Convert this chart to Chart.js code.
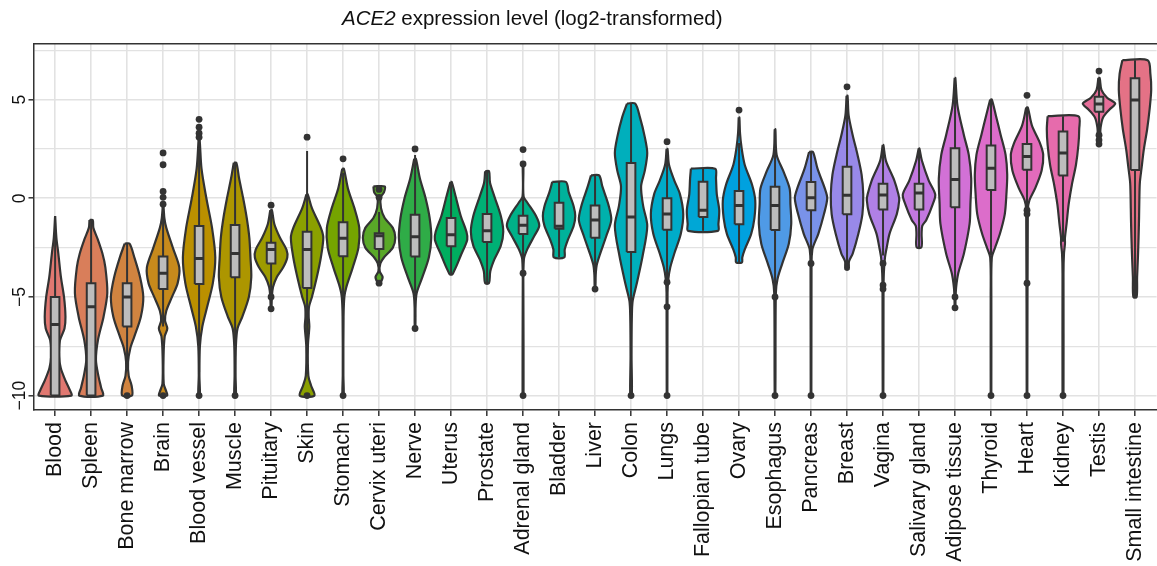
<!DOCTYPE html>
<html>
<head>
<meta charset="utf-8">
<script src="https://cdn.jsdelivr.net/npm/chart.js@4.4.1/dist/chart.umd.min.js"></script>
<style>
  html, body { margin: 0; padding: 0; background: #fff; overflow: hidden; }
  #wrap { position: relative; width: 1157px; height: 566px; overflow: hidden; }
  #titulo { position: absolute; left: 342px; top: 6px; font: 20.5px "Liberation Sans", Arial, sans-serif; color: #111; white-space: nowrap; }
  canvas { position: absolute; left: 0; top: 0; }
</style>
</head>
<body>
<div id="wrap">
  <canvas id="violines" width="1167" height="566"></canvas>
  <div id="titulo"><i>ACE2</i> expression level (log2-transformed)</div>
</div>
<script>
// tejidos en el orden del eje x
var tejidos = ['Blood', 'Spleen', 'Bone marrow', 'Brain', 'Blood vessel', 'Muscle', 'Pituitary', 'Skin',
    'Stomach', 'Cervix uteri', 'Nerve', 'Uterus', 'Prostate', 'Adrenal gland', 'Bladder', 'Liver', 'Colon',
    'Lungs', 'Fallopian tube', 'Ovary', 'Esophagus', 'Pancreas', 'Breast', 'Vagina', 'Salivary gland',
    'Adipose tissue', 'Thyroid', 'Heart', 'Kidney', 'Testis', 'Small intestine'];

// perfil de cada violin: [nivel, ancho relativo] de arriba hacia abajo
var perfiles = [
    [[-0.9, 0], [-2, 0.08], [-2.8, 0.2], [-4, 0.36], [-5, 0.55], [-6, 0.64], [-6.6, 0.58], [-7.2, 0.3], [-8, 0.24], [-8.6, 0.35], [-9.2, 0.62], [-9.7, 0.9], [-10, 1.0]],
    [[-1.1, 0.1], [-1.5, 0.14], [-2.1, 0.42], [-2.8, 0.7], [-3.5, 0.88], [-4.8, 1.0], [-6, 0.77], [-7.2, 0.42], [-8.2, 0.3], [-9, 0.45], [-9.6, 0.62], [-10, 0.72]],
    [[-2.3, 0.15], [-3, 0.45], [-4, 0.8], [-5, 1.0], [-6, 0.85], [-7, 0.45], [-7.6, 0.2], [-8.3, 0.06], [-9, 0.1], [-9.5, 0.28], [-10, 0.3]],
    [[-0.4, 0.02], [-1, 0.08], [-1.5, 0.2], [-2.5, 0.6], [-3.5, 1.0], [-4.3, 0.9], [-5, 0.55], [-5.7, 0.2], [-6.2, 0.12], [-6.6, 0.26], [-7, 0.1], [-8, 0.03], [-9.4, 0.04], [-9.8, 0.2], [-10, 0.25]],
    [[3.0, 0.03], [1.5, 0.15], [0, 0.45], [-1.5, 0.8], [-3, 1.0], [-4.3, 0.85], [-5.5, 0.5], [-6.5, 0.2], [-7.5, 0.05], [-9, 0.02], [-10, 0.05]],
    [[1.8, 0.08], [1, 0.25], [0, 0.5], [-1, 0.72], [-2, 0.88], [-3, 0.95], [-4, 1.0], [-5, 0.85], [-6, 0.45], [-6.6, 0.15], [-7.5, 0.05], [-9, 0.03], [-10, 0.05]],
    [[-0.6, 0.05], [-1.3, 0.2], [-2, 0.55], [-2.6, 0.95], [-3, 1.0], [-3.5, 0.75], [-4, 0.35], [-4.5, 0.12], [-5, 0.05], [-5.6, 0.02]],
    [[0.2, 0.04], [-0.5, 0.3], [-1.5, 0.85], [-2, 1.0], [-3, 0.85], [-4, 0.6], [-5, 0.3], [-5.5, 0.12], [-6, 0.1], [-6.5, 0.14], [-7.5, 0.05], [-9, 0.08], [-9.5, 0.25], [-10, 0.45]],
    [[1.5, 0.05], [0.5, 0.3], [-0.5, 0.7], [-1.5, 1.0], [-2.5, 0.95], [-3.5, 0.6], [-4.5, 0.2], [-5, 0.08], [-6, 0.03], [-9, 0.02], [-10, 0.04]],
    [[0.6, 0.35], [0.3, 0.3], [0.05, 0.1], [-0.5, 0.12], [-1, 0.35], [-1.5, 0.85], [-2, 1.0], [-2.5, 0.85], [-3, 0.3], [-3.3, 0.08], [-3.7, 0.04], [-4.0, 0.22], [-4.3, 0.05]],
    [[2.0, 0.05], [1, 0.3], [0, 0.65], [-1, 0.9], [-2, 1.0], [-3, 0.85], [-4, 0.45], [-4.8, 0.1], [-5.5, 0.03], [-6.5, 0.02]],
    [[0.83, 0.04], [0.1, 0.28], [-0.9, 0.6], [-1.7, 0.95], [-2.1, 1.0], [-2.9, 0.6], [-3.4, 0.35], [-3.7, 0.18], [-3.85, 0.08]],
    [[1.37, 0.12], [0.8, 0.18], [0.1, 0.45], [-0.9, 0.85], [-1.7, 1.0], [-2.4, 0.85], [-3.1, 0.45], [-3.7, 0.2], [-4.3, 0.12]],
    [[1.6, 0.02], [0.1, 0.03], [-0.2, 0.25], [-0.9, 0.8], [-1.4, 1.0], [-1.9, 0.7], [-2.6, 0.25], [-3.1, 0.05], [-5, 0.02], [-10, 0.03]],
    [[0.83, 0.42], [0.3, 0.6], [-0.4, 0.9], [-0.9, 1.0], [-1.4, 0.9], [-2.1, 0.55], [-2.6, 0.35], [-3.0, 0.32]],
    [[1.16, 0.25], [0.6, 0.45], [-0.4, 0.85], [-1.1, 1.0], [-1.9, 0.7], [-2.9, 0.28], [-3.4, 0.1], [-3.9, 0.04], [-4.6, 0.02]],
    [[4.8, 0.25], [4.1, 0.55], [3.1, 0.85], [2.3, 1.0], [1.4, 0.85], [0.6, 0.62], [-0.4, 0.75], [-1.4, 1.0], [-2.9, 0.72], [-4.4, 0.33], [-5.2, 0.1], [-6, 0.05], [-8, 0.03], [-10, 0.05]],
    [[2.5, 0.03], [1.7, 0.12], [0.9, 0.45], [0.2, 0.8], [-0.8, 1.0], [-1.8, 0.85], [-2.8, 0.45], [-3.5, 0.2], [-4.1, 0.08], [-4.8, 0.03], [-10, 0.02]],
    [[1.5, 0.75], [1.0, 0.8], [0.2, 0.85], [-0.6, 1.0], [-1.3, 0.95], [-1.65, 0.92]],
    [[4.1, 0.02], [3.3, 0.06], [2.6, 0.15], [1.7, 0.35], [0.7, 0.8], [-0.1, 1.0], [-1.0, 0.95], [-1.8, 0.75], [-2.6, 0.35], [-3.0, 0.2], [-3.25, 0.18]],
    [[3.5, 0.02], [2.2, 0.1], [1.4, 0.5], [0.5, 0.9], [-0.3, 0.95], [-1.3, 1.0], [-2.3, 0.85], [-3.3, 0.45], [-4.1, 0.15], [-4.8, 0.05], [-10, 0.02]],
    [[2.35, 0.12], [1.5, 0.4], [0.5, 0.85], [0.0, 1.0], [-0.8, 0.8], [-1.8, 0.45], [-2.3, 0.2], [-2.6, 0.08], [-3.3, 0.03], [-10, 0.02]],
    [[5.2, 0.03], [4.2, 0.1], [3.2, 0.35], [2.2, 0.65], [1.2, 0.9], [0.2, 1.0], [-0.8, 0.95], [-1.8, 0.7], [-2.8, 0.35], [-3.2, 0.12], [-3.6, 0.1]],
    [[2.7, 0.02], [1.9, 0.18], [0.9, 0.7], [0.2, 0.95], [-0.1, 1.0], [-0.8, 0.85], [-1.8, 0.4], [-2.4, 0.25], [-3.0, 0.12], [-3.8, 0.05], [-4.8, 0.03], [-10, 0.02]],
    [[2.53, 0.02], [1.9, 0.18], [0.9, 0.6], [0.2, 1.0], [-0.3, 0.85], [-1.1, 0.45], [-1.4, 0.2], [-1.8, 0.16], [-2.48, 0.15]],
    [[6.1, 0.02], [4.7, 0.15], [3.2, 0.55], [2.2, 0.85], [1.0, 1.0], [-0.3, 0.95], [-1.3, 0.9], [-2.8, 0.55], [-3.8, 0.2], [-4.5, 0.07], [-5.1, 0.03], [-5.55, 0.02]],
    [[5.0, 0.05], [4.2, 0.3], [3.2, 0.6], [2.2, 0.9], [1.2, 1.0], [0.2, 0.95], [-0.8, 0.85], [-1.8, 0.55], [-2.5, 0.25], [-3.0, 0.05], [-5, 0.02], [-10, 0.02]],
    [[4.6, 0.05], [3.7, 0.3], [2.8, 0.8], [2.2, 1.0], [1.4, 0.9], [0.5, 0.5], [-0.1, 0.15], [-0.6, 0.05], [-10, 0.02]],
    [[4.16, 0.95], [3.5, 1.0], [2.7, 0.95], [1.7, 0.8], [0.7, 0.55], [-0.3, 0.35], [-1.3, 0.22], [-2.0, 0.12], [-2.3, 0.12], [-2.8, 0.06], [-3.8, 0.03], [-10, 0.03]],
    [[6.1, 0.04], [5.5, 0.15], [5.1, 0.5], [4.8, 1.0], [4.5, 0.65], [4.1, 0.25], [3.6, 0.1], [3.0, 0.05]],
    [[7.0, 0.78], [6.3, 0.95], [5.5, 1.0], [4.5, 0.9], [3.5, 0.75], [2.5, 0.55], [1.5, 0.4], [0.8, 0.3], [0, 0.27], [-1, 0.25], [-2, 0.22], [-3, 0.18], [-4, 0.13], [-5, 0.1]]
];

// cajas: cuartil inferior, mediana, cuartil superior
var q1 = [-10, -10, -6.5, -4.6, -4.35, -4.0, -3.3, -4.55, -2.94, -2.57, -2.95, -2.43, -2.21, -1.81, -1.54, -2.0,
    -2.72, -1.6, -0.95, -1.32, -1.61, -0.61, -0.81, -0.57, -0.57, -0.46, 0.42, 1.45, 1.15, 4.39, 1.44];
var mediana = [-6.4, -5.5, -5.0, -3.8, -3.05, -2.8, -2.6, -2.6, -2.03, -1.9, -1.95, -1.85, -1.64, -1.37, -1.42, -1.1,
    -0.95, -0.8, -0.6, -0.36, -0.36, 0.03, 0.15, 0.17, 0.27, 0.95, 1.52, 2.12, 2.3, 4.78, 4.98];
var q3 = [-5.0, -4.3, -4.3, -2.95, -1.4, -1.35, -2.25, -1.7, -1.22, -1.77, -0.83, -1.0, -0.8, -0.88, -0.22, -0.36,
    1.79, 0.0, 0.84, 0.37, 0.59, 0.83, 1.6, 0.74, 0.74, 2.53, 2.67, 2.75, 3.38, 5.15, 6.08];
// bigotes
var bigoteBajo = [-10, -10, -8.3, -6.5, -8.8, -8.0, -4.8, -8.9, -5.5, -3.3, -6.0, -3.85, -4.3, -3.2, -3.0, -4.3,
    -9.5, -4.1, -1.65, -3.25, -4.9, -2.7, -3.6, -2.9, -2.48, -4.9, -2.9, -0.5, -2.2, 3.3, -5.0];
var bigoteAlto = [-0.9, -1.1, -2.3, -0.5, 3.0, 1.8, -0.7, 2.4, 1.3, -0.7, 2.2, 0.83, 1.37, 0.2, 0.83, 1.16,
    4.8, 2.4, 1.5, 2.8, 3.5, 2.35, 5.2, 2.7, 2.53, 6.1, 5.0, 4.6, 4.16, 6.0, 7.0];
// valores atipicos
var atipicos = [
    [], [], [-10], [2.3, 1.7, 0.35, 0.05, -0.3, -10], [4.0, 3.6, 3.3, 3.1, -10], [-10], [-0.35, -5.0, -5.6],
    [3.1, -10], [2.0, -10], [0.05, 0.45, -4.3], [2.5, -6.6], [], [], [2.47, 1.74, -3.8, -10], [], [-4.6],
    [-10], [2.87, -4.25, -5.5, -10], [], [4.47], [-5.0, -10], [-3.3, -10], [5.65], [-3.3, -4.4, -4.6, -10], [],
    [-5.0, -5.55], [-10], [5.22, -0.6, -0.8, -4.3, -10], [-10], [6.45, 3.2, 2.95, 2.75], []
];

var ticksY = [-10, -7.5, -5, -2.5, 0, 2.5, 5, 7.5];

var fuente = '"Liberation Sans", Arial, sans-serif';
var MEDIO = 0.45;   // medio ancho maximo del violin
var CAJA = 0.12;    // medio ancho de la caja

// paleta hue de ggplot, algo apagada como en la figura impresa
function colorHcl(h, c, l) {
    var hr = h * Math.PI / 180;
    var U = c * Math.cos(hr), V = c * Math.sin(hr);
    var Xn = 95.047, Yn = 100, Zn = 108.883;
    var un = 4 * Xn / (Xn + 15 * Yn + 3 * Zn), vn = 9 * Yn / (Xn + 15 * Yn + 3 * Zn);
    var Y = Yn * Math.pow((l + 16) / 116, 3);
    var u = U / (13 * l) + un, v = V / (13 * l) + vn;
    var X = Y * 9 * u / (4 * v), Z = Y * (12 - 3 * u - 20 * v) / (4 * v);
    X /= 100; Y /= 100; Z /= 100;
    var rgb = [
        3.240479 * X - 1.537150 * Y - 0.498535 * Z,
        -0.969256 * X + 1.875992 * Y + 0.041556 * Z,
        0.055648 * X - 0.204043 * Y + 1.057311 * Z
    ].map(function (k) {
        k = k <= 0.0031308 ? 12.92 * k : 1.055 * Math.pow(k, 1 / 2.4) - 0.055;
        return Math.round(Math.max(0, Math.min(1, k)) * 255);
    });
    return 'rgb(' + rgb.join(',') + ')';
}

var conjuntos = [];
var puntos = [];

tejidos.forEach(function (nombre, i) {
    var perfil = perfiles[i];
    var izq = perfil.map(function (p) { return { x: i - p[1] * MEDIO, y: p[0] }; });
    var der = perfil.slice().reverse().map(function (p) { return { x: i + p[1] * MEDIO, y: p[0] }; });
    var contorno = izq.concat(der);
    contorno.push(contorno[0]);

    conjuntos.push({
        label: nombre,
        data: contorno,
        fill: 'shape',
        backgroundColor: colorHcl(15 + i * 360 / tejidos.length, 78, 62),
        borderColor: '#333333',
        borderWidth: 2.2,
        borderJoinStyle: 'round',
        tension: 0.3,
        pointRadius: 0,
        order: 4
    });
    conjuntos.push({
        data: [{ x: i, y: bigoteBajo[i] }, { x: i, y: bigoteAlto[i] }],
        borderColor: '#333333',
        borderWidth: 2,
        pointRadius: 0,
        fill: false,
        order: 3
    });
    conjuntos.push({
        data: [{ x: i - CAJA, y: q1[i] }, { x: i - CAJA, y: q3[i] }, { x: i + CAJA, y: q3[i] },
            { x: i + CAJA, y: q1[i] }, { x: i - CAJA, y: q1[i] }],
        fill: 'shape',
        backgroundColor: '#bdbdbd',
        borderColor: '#333333',
        borderWidth: 2,
        tension: 0,
        pointRadius: 0,
        order: 2
    });
    conjuntos.push({
        data: [{ x: i - CAJA, y: mediana[i] }, { x: i + CAJA, y: mediana[i] }],
        borderColor: '#333333',
        borderWidth: 3,
        pointRadius: 0,
        fill: false,
        order: 1
    });
    atipicos[i].forEach(function (v) { puntos.push({ x: i, y: v }); });
});

conjuntos.push({
    data: puntos,
    showLine: false,
    pointRadius: 3.4,
    pointBackgroundColor: '#333333',
    pointBorderWidth: 0,
    order: 0
});

function esMayor(v) { return Math.abs(v % 5) < 1e-9; }

var ctx = document.getElementById('violines').getContext('2d');
var grafico = new Chart(ctx, {
    type: 'line',
    data: { datasets: conjuntos },
    options: {
        responsive: false,
        animation: false,
        events: [],
        layout: { padding: { top: 44, left: 0, right: 2, bottom: 0 } },
        plugins: {
            legend: { display: false },
            tooltip: { enabled: false },
            title: { display: false }
        },
        scales: {
            x: {
                type: 'linear',
                min: -0.6,
                max: 30.6,
                afterBuildTicks: function (s) { s.ticks = tejidos.map(function (t, i) { return { value: i }; }); },
                afterFit: function (s) { s.height = 156; },
                ticks: {
                    autoSkip: false,
                    minRotation: 90,
                    maxRotation: 90,
                    padding: 6,
                    color: '#111',
                    font: { family: fuente, size: 21.5 },
                    callback: function (v) { return tejidos[v]; }
                },
                grid: { color: '#e2e2e2', lineWidth: 1.6, tickColor: '#333333', tickLength: 6, tickWidth: 1.5 },
                border: { color: '#333333', width: 1.5 }
            },
            arriba: {
                type: 'linear',
                position: 'top',
                min: -0.6,
                max: 30.6,
                ticks: { display: false },
                grid: { display: false, drawTicks: false },
                border: { display: true, color: '#333333', width: 1.5 },
                afterFit: function (s) { s.height = 0; }
            },
            y: {
                type: 'linear',
                min: -10.73,
                max: 7.82,
                afterBuildTicks: function (s) { s.ticks = ticksY.map(function (v) { return { value: v }; }); },
                afterFit: function (s) { s.width = 33.5; },
                ticks: {
                    minRotation: 90,
                    maxRotation: 90,
                    crossAlign: 'center',
                    padding: -7,
                    color: '#111',
                    font: { family: fuente, size: 17.5 },
                    callback: function (v) {
                        if (!esMayor(v)) return '';
                        return v < 0 ? '\u2212' + Math.abs(v) : String(v);
                    }
                },
                grid: {
                    color: '#e2e2e2',
                    lineWidth: function (c) { return c.tick && esMayor(c.tick.value) ? 1.6 : 1.2; },
                    tickColor: function (c) { return c.tick && esMayor(c.tick.value) ? '#333333' : 'rgba(0,0,0,0)'; },
                    tickLength: 5,
                    tickWidth: 1.5
                },
                border: { color: '#333333', width: 1.5 }
            }
        }
    }
});
</script>
</body>
</html>
